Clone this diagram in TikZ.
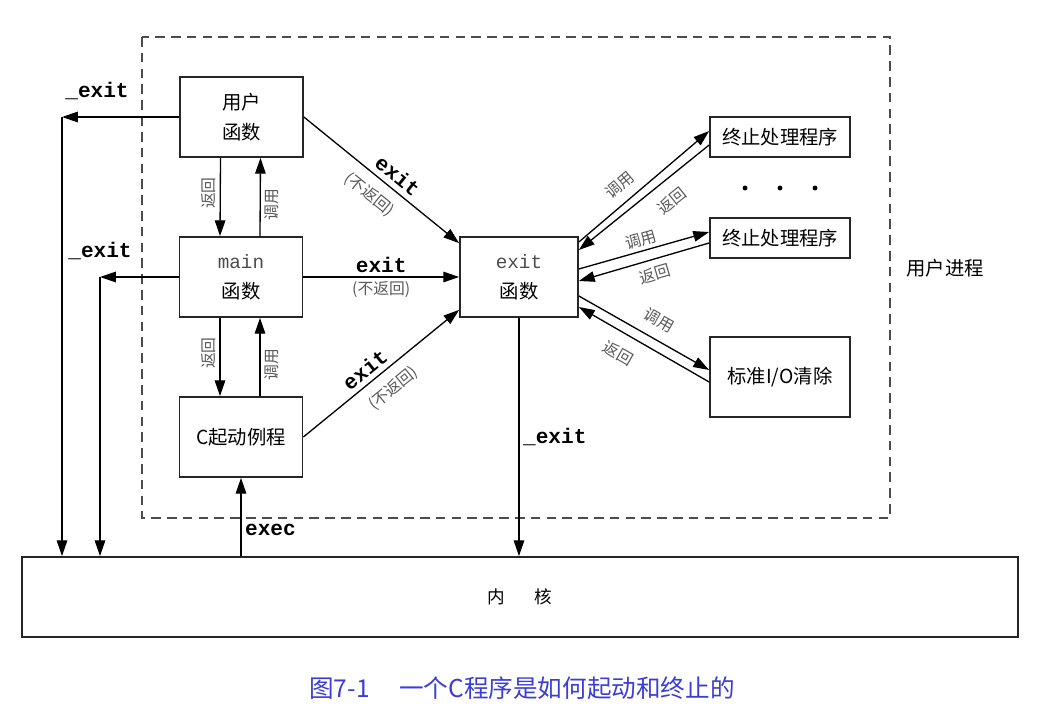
\documentclass[tikz,border=0pt]{standalone}
\usepackage{fontspec}
\setmainfont{Noto Sans CJK SC}
\setmonofont{Liberation Mono}
\usepackage{tikz}
\usetikzlibrary{arrows.meta,positioning}
\definecolor{capblue}{RGB}{60,60,215}
\tikzset{
	>={Stealth[length=9pt,width=6pt,inset=0pt]}, % solid triangle heads
	flow/.style={->, line width=0.75pt},
	box/.style={draw=black!85, line width=1pt, minimum width=2.46cm, minimum height=1.6cm,
		inner sep=0pt, align=center, font=\fontsize{11}{17}\selectfont},
	handler/.style={box, minimum width=2.8cm, minimum height=0.8cm},
	lbl/.style={font=\fontsize{9}{9}\selectfont, text=black!65, inner sep=2pt},
	code/.style={font=\fontsize{12}{12}\selectfont\ttfamily\bfseries, inner sep=2pt},
}

\begin{document}
\begin{tikzpicture}[x=0.02cm, y=-0.02cm]
      \useasboundingbox (0,0) rectangle (1063,720);

      % user process border
      \draw[black!70, line width=0.6pt, dash pattern=on 5.5pt off 3.5pt] (142,37) rectangle (890,518);

      \node[box] (user)  at (241.5,117) {用户\\函数};
      \node[box] (main)  at (241,277)   {\textcolor{black!70}{\fontsize{11}{11}\ttfamily main}\\函数};
      \node[box] (start) at (241,437)   {C起动例程};
      \node[box, minimum width=2.36cm] (exitf) at (519,277) {\textcolor{black!70}{\fontsize{11}{11}\ttfamily exit}\\函数};
      \node[handler] (h1) at (780,137) {终止处理程序};
      \node[handler] (h2) at (780,238) {终止处理程序};
      \node[handler, minimum height=1.6cm] (stdio) at (780,377) {标准I/O清除};
      \node[box, minimum width=19.92cm, font=\fontsize{10}{10}\selectfont] (kernel) at (520,597) {内\hspace{1.7em}核};

      \node[font=\fontsize{11}{11}\selectfont] (proc) at (945,268) {用户进程};
      \foreach \dx in {745,780,815}
            \fill (\dx,188) circle (1.4pt);

      % calls and returns on the left
      \draw[flow] ([xshift=-0.42cm]user.south) -- ([xshift=-0.42cm]main.north)
            node[lbl, pos=0.45, rotate=90, anchor=south] {返回};
      \draw[flow] ([xshift=0.38cm]main.north) -- ([xshift=0.38cm]user.south)
            node[lbl, pos=0.4, rotate=90, anchor=north] {调用};
      \draw[flow] ([xshift=-0.42cm]main.south) -- ([xshift=-0.42cm]start.north)
            node[lbl, pos=0.45, rotate=90, anchor=south] {返回};
      \draw[flow] ([xshift=0.38cm]start.north) -- ([xshift=0.38cm]main.south)
            node[lbl, pos=0.4, rotate=90, anchor=north] {调用};

      % _exit into the kernel
      \coordinate (ux) at (62,117);
      \coordinate (mx) at (100,277);
      \draw[flow] (user.west) -- (ux);
      \draw[flow] (ux) -- (ux |- kernel.north);
      \draw[flow] (main.west) -- (mx);
      \draw[flow] (mx) -- (mx |- kernel.north);
      \node[code] at (97,91) {\_exit};
      \node[code] at (100,251) {\_exit};

      % exit (no return)
      \draw[flow] (user.east) -- ([yshift=-0.14cm]exitf.north west)
            node[code, pos=0.55, sloped, above=1pt] {exit}
            node[lbl, pos=0.5, sloped, below=4pt] {(不返回)};
      \draw[flow] (main.east) -- (main.east -| exitf.west)
            node[code, midway, above] {exit}
            node[lbl, midway, below] {(不返回)};
      \draw[flow] (start.east) -- ([yshift=0.16cm]exitf.south west)
            node[code, pos=0.45, sloped, above=1pt] {exit}
            node[lbl, pos=0.5, sloped, below=4pt] {(不返回)};

      % exit handlers
      \draw[flow] ([yshift=0.7cm]exitf.east) -- ([yshift=0.12cm]h1.west)
            node[lbl, pos=0.4, sloped, above=3pt] {调用};
      \draw[flow] ([yshift=-0.16cm]h1.west) -- ([yshift=0.54cm]exitf.east)
            node[lbl, pos=0.38, sloped, below=5pt] {返回};
      \draw[flow] ([yshift=0.16cm]exitf.east) -- ([yshift=0.12cm]h2.west)
            node[lbl, pos=0.5, sloped, above] {调用};
      \draw[flow] ([yshift=-0.1cm]h2.west) -- ([yshift=-0.08cm]exitf.east)
            node[lbl, pos=0.45, sloped, below=2pt] {返回};
      \draw[flow] ([yshift=-0.38cm]exitf.east) -- ([yshift=0.14cm]stdio.west)
            node[lbl, pos=0.55, sloped, above=4pt] {调用};
      \draw[flow] ([yshift=-0.1cm]stdio.west) -- ([yshift=-0.6cm]exitf.east)
            node[lbl, pos=0.62, sloped, below=5pt] {返回};

      % kernel connections
      \draw[flow] (exitf.south) -- (exitf.south |- kernel.north)
            node[code, pos=0.5, right] {\_exit};
      \draw[flow] (kernel.north -| start.south) -- (start.south)
            node[code, pos=0.33, right] {exec};

      \node[text=capblue, font=\fontsize{14}{14}\selectfont] (cap) at (522,688) {图7-1\hspace{1.2em}一个C程序是如何起动和终止的};
\end{tikzpicture}
\end{document}
